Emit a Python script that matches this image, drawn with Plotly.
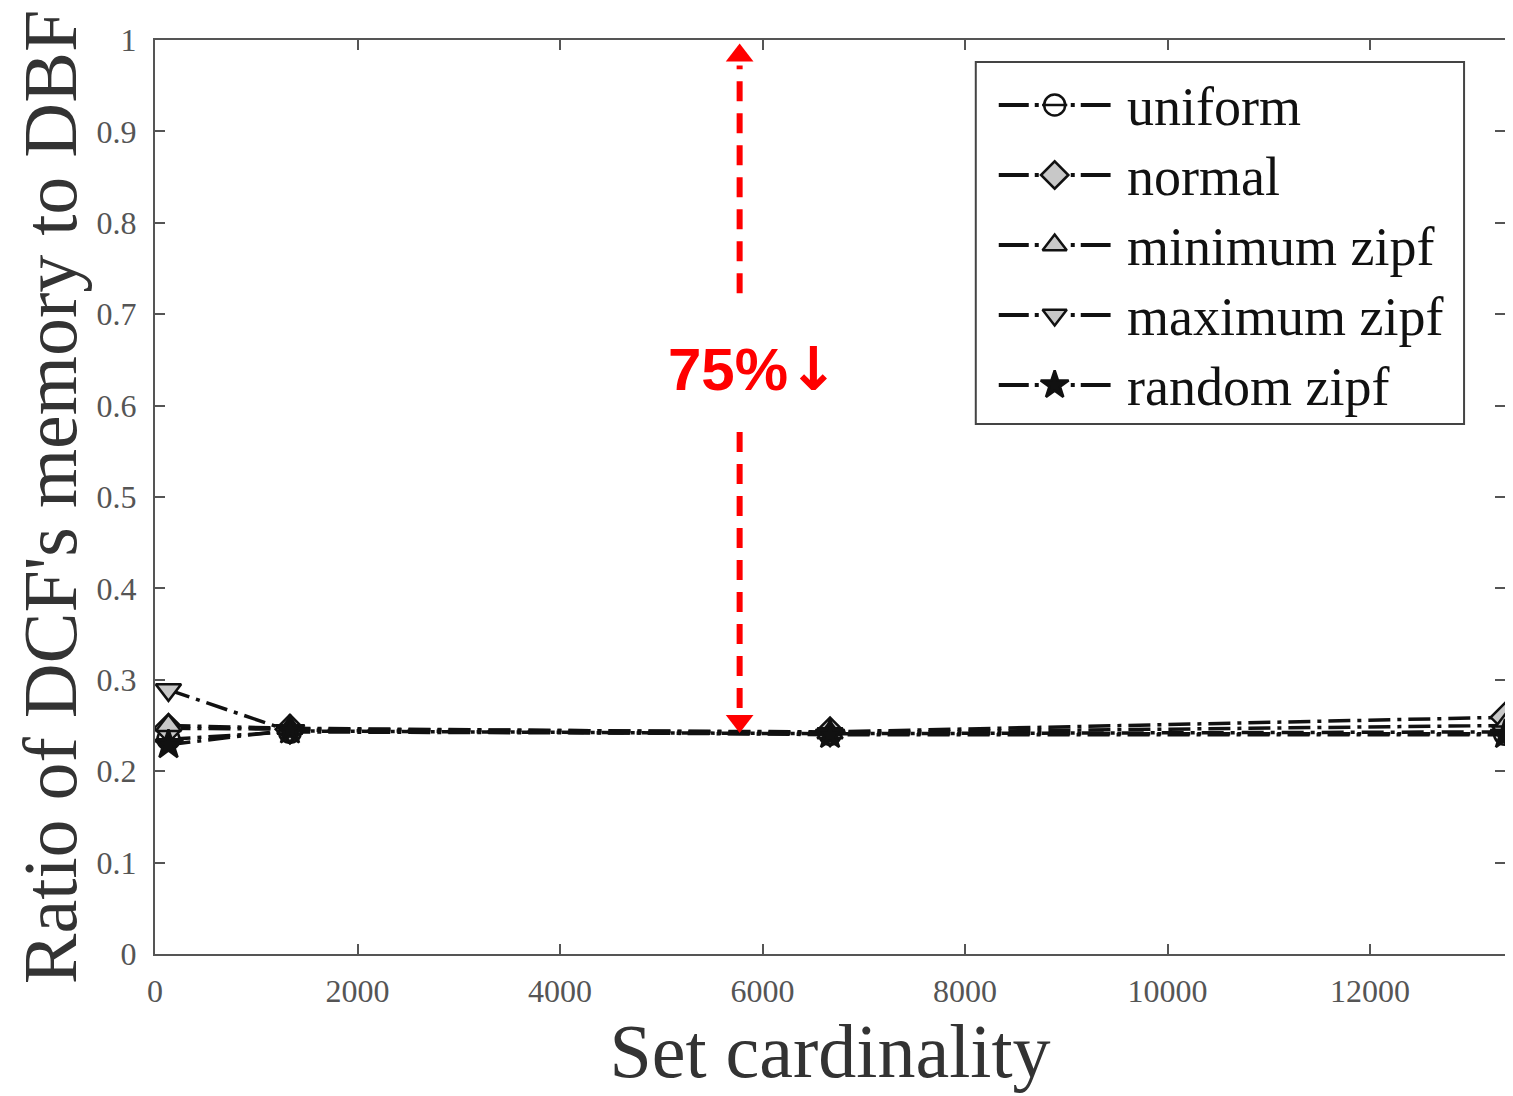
import plotly.graph_objects as go

# ---- data ----
set_cardinality = [133, 1333, 6667, 13333]
uniform = [0.235, 0.243, 0.241, 0.241]
normal = [0.247, 0.246, 0.243, 0.259]
minimum_zipf = [0.250, 0.247, 0.242, 0.250]
maximum_zipf = [0.289, 0.244, 0.241, 0.243]
random_zipf = [0.229, 0.245, 0.240, 0.240]

series_names = ["uniform", "normal", "minimum zipf", "maximum zipf", "random zipf"]
series_values = [uniform, normal, minimum_zipf, maximum_zipf, random_zipf]
series_symbols = ["circle", "diamond", "triangle-up", "triangle-down", "star"]
series_fill = ["white", "#c8c8c8", "#c8c8c8", "#c8c8c8", "#111111"]

x_ticks = [0, 2000, 4000, 6000, 8000, 10000, 12000]
y_ticks = [0, 0.1, 0.2, 0.3, 0.4, 0.5, 0.6, 0.7, 0.8, 0.9, 1]
y_tick_labels = ["0", "0.1", "0.2", "0.3", "0.4", "0.5", "0.6", "0.7", "0.8", "0.9", "1"]

annot_x = 5774
annot_text = "75%"

INK = "#111111"
SERIF = "Liberation Serif, Times New Roman, serif"

fig = go.Figure()
for name, vals, sym, fill in zip(series_names, series_values, series_symbols, series_fill):
    fig.add_trace(go.Scatter(
        x=set_cardinality, y=vals, name=name, mode="lines+markers", showlegend=False,
        line=dict(color=INK, width=3.5, dash="22px,7px,4px,7px"),
        marker=dict(symbol=sym, size=22, color=fill, line=dict(color=INK, width=2.5)),
    ))
    if sym == "circle":
        fig.add_trace(go.Scatter(x=set_cardinality, y=vals, mode="markers", showlegend=False,
                                 hoverinfo="skip",
                                 marker=dict(symbol="line-ew", size=18, line=dict(color=INK, width=2.5))))

# red dashed double arrow
fig.add_shape(type="line", x0=annot_x, x1=annot_x, y0=0.723, y1=0.972,
              line=dict(color="red", width=6, dash="20px,12px"))
fig.add_shape(type="line", x0=annot_x, x1=annot_x, y0=0.571, y1=0.262,
              line=dict(color="red", width=6, dash="20px,12px"))
fig.add_trace(go.Scatter(x=[annot_x, annot_x], y=[0.983, 0.255], mode="markers",
                         marker=dict(symbol=["triangle-up", "triangle-down"], size=24, color="red"),
                         showlegend=False, hoverinfo="skip"))
fig.add_annotation(x=annot_x, y=0.64, xref="x", yref="y",
                   text="<b>" + annot_text + "<span style='font-family:DejaVu Sans'>↓</span></b>",
                   showarrow=False, xshift=13,
                   font=dict(family="Liberation Sans, Arial", size=60, color="red"))

# ---- legend drawn on a hidden pixel-like overlay axis ----
LEG_X0, LEG_X1, LEG_Y0, LEG_Y1 = 977, 1466, 62, 424
leg_row_y = [105, 175, 245, 315, 385]
fig.add_shape(type="rect", xref="x2", yref="y2", x0=LEG_X0, x1=LEG_X1, y0=LEG_Y0, y1=LEG_Y1,
              line=dict(color="#444444", width=2), fillcolor="white", layer="below")
for name, sym, fill, ry in zip(series_names, series_symbols, series_fill, leg_row_y):
    fig.add_trace(go.Scatter(x=[1000, 1112], y=[ry, ry], xaxis="x2", yaxis="y2", mode="lines",
                             showlegend=False, hoverinfo="skip",
                             line=dict(color=INK, width=4, dash="30px,6px,4px,32px,4px,6px,30px,100px")))
    fig.add_trace(go.Scatter(x=[1056], y=[ry], xaxis="x2", yaxis="y2", mode="markers",
                             showlegend=False, hoverinfo="skip",
                             marker=dict(symbol=sym, size=21, color=fill, line=dict(color=INK, width=2.5))))
    if sym == "circle":
        fig.add_trace(go.Scatter(x=[1056], y=[ry], xaxis="x2", yaxis="y2", mode="markers",
                                 showlegend=False, hoverinfo="skip",
                                 marker=dict(symbol="line-ew", size=18, line=dict(color=INK, width=2.5))))
    fig.add_annotation(x=1126, y=ry, xref="x2", yref="y2", text=name, showarrow=False,
                       xanchor="left", yanchor="middle", yshift=-2,
                       font=dict(family=SERIF, size=54, color=INK))

axis_common = dict(showline=True, linecolor="#555555", linewidth=2, mirror="ticks",
                   ticks="inside", ticklen=10, tickwidth=2, tickcolor="#555555",
                   showgrid=False, zeroline=False,
                   tickfont=dict(family=SERIF, size=32, color="#555555"))

fig.update_xaxes(range=[0, 13333], tickvals=x_ticks, ticktext=[str(v) for v in x_ticks],
                 ticklabelstandoff=8,
                 title=dict(text="Set cardinality", standoff=14,
                            font=dict(family=SERIF, size=76, color="#333333")),
                 **axis_common)
fig.update_yaxes(range=[0, 1], tickvals=y_ticks, ticktext=y_tick_labels,
                 ticklabelstandoff=10,
                 title=dict(text="Ratio of DCF's memory to DBF", standoff=8,
                            font=dict(family=SERIF, size=76, color="#333333")),
                 **axis_common)

fig.update_layout(
    width=1505, height=1088,
    margin=dict(l=147, r=6, t=32, b=142),
    paper_bgcolor="white", plot_bgcolor="white",
    showlegend=False,
    xaxis2=dict(overlaying="x", range=[155, 1507], visible=False, fixedrange=True),
    yaxis2=dict(overlaying="y", range=[954, 40], visible=False, fixedrange=True),
)

fig.write_html("out.html")
